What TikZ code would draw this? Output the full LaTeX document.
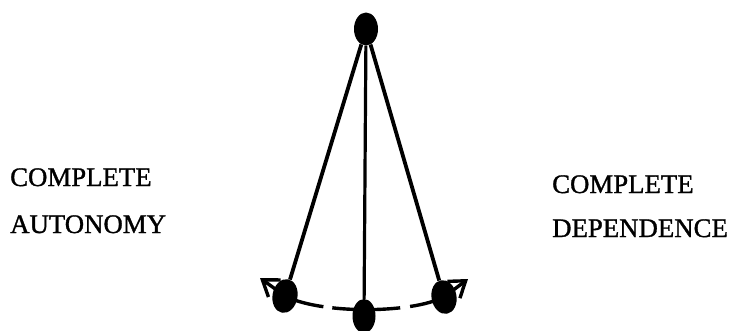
\documentclass[tikz,border=0pt]{standalone}
\usepackage{fontspec}
\setmainfont[FakeBold=1.2]{Liberation Serif}
\usetikzlibrary{shapes.geometric,arrows.meta,backgrounds}
\begin{document}
\begin{tikzpicture}[x=1pt,y=-1pt,
  bob/.style={ellipse,fill=black,draw=none,inner sep=0pt,minimum width=24pt,minimum height=34pt},
  rod/.style={line width=3.8pt},
  lab/.style={inner sep=0pt,anchor=base west,font=\fontsize{26.8}{26.8}\selectfont},
  swing/.style={line width=3.4pt,-{Straight Barb[length=15pt,width=21pt,line width=3.4pt]}}]
\useasboundingbox (0,0) rectangle (730,330);
\node[bob,minimum height=33pt] (T) at (366,29) {};
\node[bob,minimum width=25pt,rotate=-10] (L) at (285,296) {};
\node[bob,minimum width=23pt] (M) at (364,316) {};
\node[bob,minimum width=25pt,rotate=10] (R) at (444,297) {};
\coordinate (tl) at (260,278);
\coordinate (tr) at (468,279);
\begin{pgfonlayer}{background}
\draw[rod] (T) -- (L);
\draw[rod,line width=3.2pt] (T) -- (M);
\draw[rod] (T) -- (R);
\draw[line width=3.4pt,dash pattern=on 40pt off 9pt on 68pt off 10pt on 60pt]
  (L.center) .. controls (320,314) and (410,314) .. (R.center);
\draw[swing] (L.center) -- (tl);
\draw[swing] (R.center) -- (tr);
\end{pgfonlayer}
\node[lab] (c1) at (10,186) {COMPLETE};
\node[lab] (a1) at (10,233) {AUTONOMY};
\node[lab] (c2) at (552,193) {COMPLETE};
\node[lab] (d2) at (552,237) {DEPENDENCE};
\end{tikzpicture}
\end{document}
